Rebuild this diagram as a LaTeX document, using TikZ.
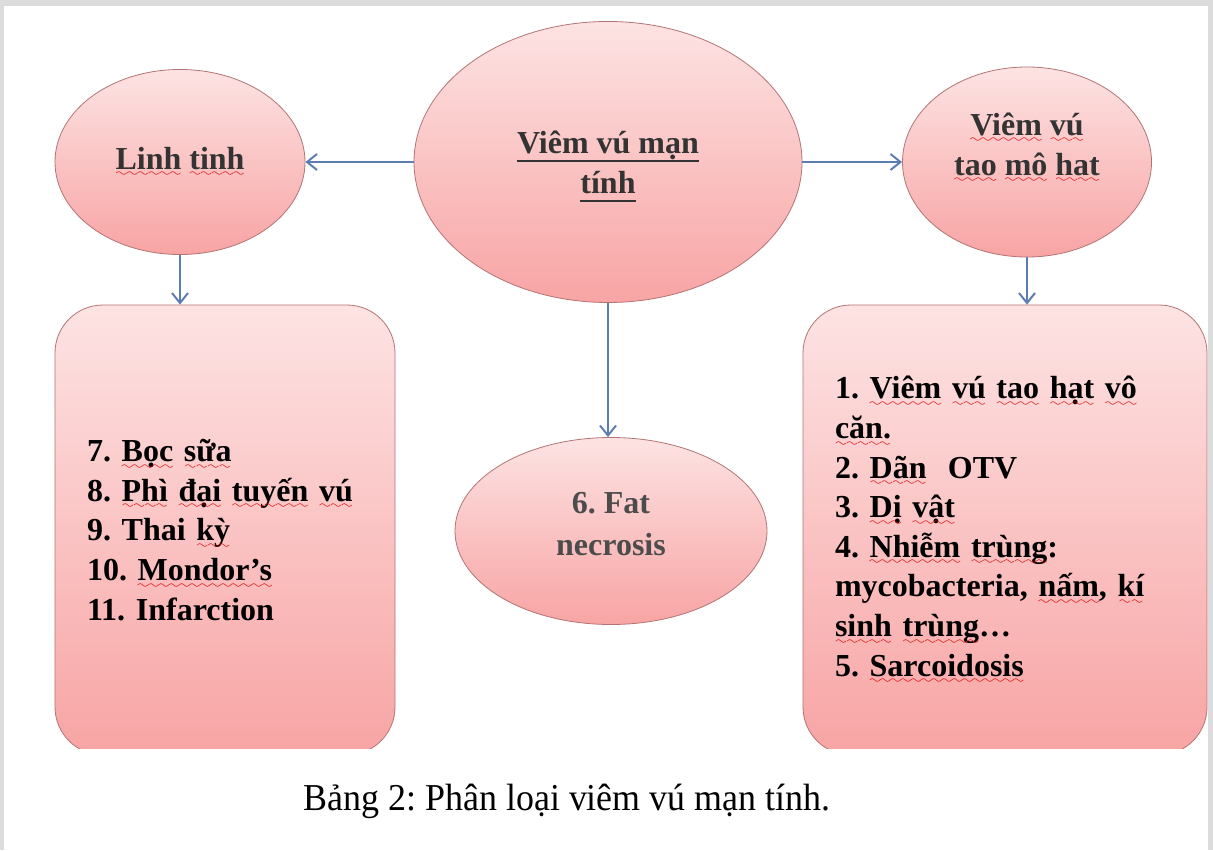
\documentclass[tikz,border=0pt]{standalone}
\usepackage{fontspec}
\setmainfont{Liberation Serif}
\usetikzlibrary{arrows.meta,positioning,shapes.geometric}
\frenchspacing

\definecolor{pinktop}{HTML}{FDE3E3}
\definecolor{pinkbot}{HTML}{F8A4A4}
\definecolor{pinkline}{HTML}{B47474}
\definecolor{linkblue}{HTML}{5B7DB1}
\definecolor{pagegray}{HTML}{DCDCDC}

\font\wavefnt=lasy6
\newcommand\titleul[1]{\leavevmode\setbox0\hbox{#1}\rlap{\copy0}\rule[-4.5pt]{\wd0}{1.3pt}}
\newcommand\squig[1]{\leavevmode\setbox0\hbox{#1}\rlap{\copy0}\lower3.8pt\hbox to\wd0{\color{red!85!black}\xleaders\hbox{\wavefnt\char58}\hfil}}

\tikzstyle{bubble}=[ellipse, draw=pinkline, top color=pinktop, bottom color=pinkbot, inner sep=0pt, align=center, text=black!80, font=\fontsize{16}{20}\selectfont\bfseries]
\tikzstyle{listbox}=[rectangle, rounded corners=24pt, draw=pinkline, top color=pinktop, bottom color=pinkbot, minimum height=225pt, inner xsep=16pt, align=left, text=black, font=\fontsize{16}{19.8}\selectfont\bfseries]
\tikzstyle{link}=[-{Straight Barb[length=5pt,width=8pt]}, draw=linkblue, line width=1pt]

\begin{document}
\begin{tikzpicture}[x=0.5pt, y=-0.5pt]
  \useasboundingbox (0,0) rectangle (1213,850);
  \fill[pagegray] (0,0) rectangle (1213,850);
  \fill[white] (4,6) rectangle (1208,850);

  \node (chinh) [bubble, minimum width=194pt, minimum height=140.5pt, text depth=0pt] at (608,162) {\titleul{Viêm vú mạn}\\\titleul{tính}};
  \node (linh) [bubble, left of=chinh, node distance=214pt, minimum width=125pt, minimum height=92.5pt] {\squig{Linh} \squig{tinh}};
  \node (mo) [bubble, right of=chinh, node distance=209.5pt, minimum width=124.5pt, minimum height=95pt, text depth=18pt] {\squig{Viêm} \squig{vú}\\\squig{tao} \squig{mô} \squig{hat}};
  \node (fat) [bubble, below of=chinh, node distance=184.5pt, xshift=1.5pt, minimum width=156pt, minimum height=93.5pt, text depth=7pt, text=black!70, font=\fontsize{16}{21}\selectfont\bfseries] {6. Fat\\necrosis};
  %
  \begin{scope}
    \clip (0,0) rectangle (1213,748);
    \node (trai) [listbox, below of=linh, node distance=184pt, xshift=22.5pt, text width=138pt] {7. \squig{Bọc} \squig{sữa}\\
      8. \squig{Phì} \squig{đại} \squig{tuyến} \squig{vú}\\
      9. Thai \squig{kỳ}\\
      10. \squig{Mondor’s}\\
      11. Infarction};
    \node (phai) [listbox, below of=mo, node distance=184pt, xshift=-11pt, text width=170pt] {1. \squig{Viêm} \squig{vú} \squig{tao} \squig{hạt} \squig{vô}\\
      \squig{căn.}\\
      2. \squig{Dãn}~ OTV\\
      3. \squig{Dị} \squig{vật}\\
      4. \squig{Nhiễm} \squig{trùng}:\\
      mycobacteria, \squig{nấm}, \squig{kí}\\
      \squig{sinh} \squig{trùng}…\\
      5. \squig{Sarcoidosis}};
  \end{scope}
  %
  \node (caption) at (567,801) {\fontsize{19}{23}\selectfont\scalebox{0.945}[1]{Bảng 2: Phân loại viêm vú mạn tính.}};

  \draw [link] (chinh) -- (linh);
  \draw [link] (chinh) -- (mo);
  \draw [link] (linh) -- (linh |- trai.north);
  \draw [link] (mo) -- (mo |- phai.north);
  \draw [link] (chinh) -- (chinh |- fat.north);
\end{tikzpicture}
\end{document}
